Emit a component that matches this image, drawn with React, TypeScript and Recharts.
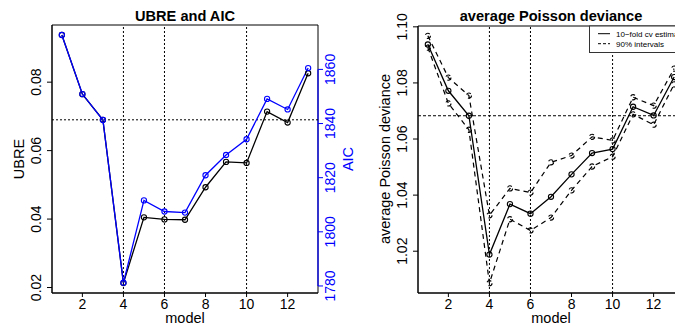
import { LineChart, Line, XAxis, YAxis, ReferenceLine, ReferenceArea } from 'recharts';

const models = [1, 2, 3, 4, 5, 6, 7, 8, 9, 10, 11, 12, 13];
const ubre = [0.0938, 0.0765, 0.069, 0.0213, 0.0405, 0.0399, 0.0398, 0.0493, 0.0567, 0.0564, 0.0714, 0.0682, 0.0826];
const aic = [1872.7, 1850.9, 1841.3, 1781.2, 1811.6, 1807.5, 1807.1, 1820.9, 1828.4, 1834.2, 1849.1, 1845.2, 1860.5];
const cvMean = [1.0937, 1.0772, 1.0683, 1.0188, 1.0368, 1.0334, 1.0394, 1.0474, 1.055, 1.0564, 1.0715, 1.0684, 1.0821];
const cvUpper = [1.0968, 1.0819, 1.0755, 1.0328, 1.0424, 1.0409, 1.0517, 1.0541, 1.0608, 1.0595, 1.0749, 1.0719, 1.0851];
const cvLower = [1.0926, 1.0727, 1.0633, 1.0086, 1.0314, 1.0274, 1.032, 1.0417, 1.0502, 1.0537, 1.0688, 1.0651, 1.0795];

const xTicks = [2, 4, 6, 8, 10, 12];
const ubreTicks = [0.02, 0.04, 0.06, 0.08];
const aicTicks = [1780, 1800, 1820, 1840, 1860];
const devTicks = [1.02, 1.04, 1.06, 1.08, 1.1];
const markedModels = [4, 6, 10];

const xDomain = [0.52, 13.48];
const ubreDomain = [0.0184, 0.0967];
const aicDomain = [1777.4, 1876.4];
const devDomain = [1.0051, 1.1003];

const FONT = '"Liberation Sans", Arial, sans-serif';
const BLUE = '#0000FF';

const leftData = models.map((m, i) => ({ model: m, ubre: ubre[i], aic: aic[i] }));
const rightData = models.map((m, i) => ({ model: m, mean: cvMean[i], upper: cvUpper[i], lower: cvLower[i] }));

const fmt2 = (v: number) => v.toFixed(2);

function RotTick({ x, y, payload, dx, color, format }: any) {
  const label = format ? format(payload.value) : String(payload.value);
  return (
    <text
      transform={`translate(${x + dx},${y}) rotate(-90)`}
      textAnchor="middle"
      fontSize={14}
      fontFamily={FONT}
      fill={color}
    >
      {label}
    </text>
  );
}

const blackDot = { r: 2.6, stroke: '#000', strokeWidth: 1.1, fill: 'none' };
const blueDot = { r: 2.6, stroke: BLUE, strokeWidth: 1.1, fill: 'none' };
const xTick = { fontSize: 14, fontFamily: FONT, fill: '#000' };

export default function App() {
  return (
    <div style={{ position: 'absolute', left: 0, top: 0, width: 675, height: 327, overflow: 'hidden', background: '#fff' }}>
      <div style={{ position: 'absolute', left: 0, top: 0 }}>
        <LineChart width={340} height={327} data={leftData} margin={{ top: 25, right: 0, bottom: 0, left: 0 }}>
          <XAxis
            dataKey="model"
            type="number"
            domain={xDomain}
            ticks={xTicks}
            allowDataOverflow
            height={34}
            tickSize={4}
            tick={xTick}
            stroke="#000"
          />
          <YAxis
            yAxisId="left"
            type="number"
            domain={ubreDomain}
            ticks={ubreTicks}
            allowDataOverflow
            width={52}
            tickSize={5}
            stroke="#000"
            tick={<RotTick dx={-4} color="#000" format={fmt2} />}
          />
          <YAxis
            yAxisId="right"
            orientation="right"
            type="number"
            domain={aicDomain}
            ticks={aicTicks}
            allowDataOverflow
            width={22}
            tickSize={5}
            axisLine={false}
            tickLine={{ stroke: BLUE }}
            tick={<RotTick dx={10} color={BLUE} />}
          />
          <ReferenceArea
            yAxisId="left"
            x1={xDomain[0]}
            x2={xDomain[1]}
            y1={ubreDomain[0]}
            y2={ubreDomain[1]}
            fill="none"
            stroke="#000"
            strokeWidth={1}
            ifOverflow="visible"
          />
          <ReferenceLine
            yAxisId="right"
            segment={[{ x: xDomain[1], y: aicTicks[0] }, { x: xDomain[1], y: aicTicks[aicTicks.length - 1] }]}
            stroke={BLUE}
            strokeWidth={1.2}
            ifOverflow="visible"
          />
          {markedModels.map((m) => (
            <ReferenceLine key={m} yAxisId="left" x={m} stroke="#000" strokeDasharray="2 2" />
          ))}
          <ReferenceLine yAxisId="left" y={ubre[2]} stroke="#000" strokeDasharray="2 2" />
          <Line yAxisId="left" type="linear" dataKey="ubre" stroke="#000" strokeWidth={1.3} dot={blackDot} isAnimationActive={false} />
          <Line yAxisId="right" type="linear" dataKey="aic" stroke={BLUE} strokeWidth={1.3} dot={blueDot} isAnimationActive={false} />
        </LineChart>
      </div>

      <div style={{ position: 'absolute', left: 340, top: 0 }}>
        <LineChart width={360} height={327} data={rightData} margin={{ top: 26, right: 16, bottom: 0, left: 0 }}>
          <XAxis
            dataKey="model"
            type="number"
            domain={xDomain}
            ticks={xTicks}
            allowDataOverflow
            height={34}
            tickSize={4}
            tick={xTick}
            stroke="#000"
          />
          <YAxis
            type="number"
            domain={devDomain}
            ticks={devTicks}
            allowDataOverflow
            width={78}
            tickSize={5}
            stroke="#000"
            tick={<RotTick dx={-4} color="#000" format={fmt2} />}
          />
          <ReferenceArea
            x1={xDomain[0]}
            x2={xDomain[1]}
            y1={devDomain[0]}
            y2={devDomain[1]}
            fill="none"
            stroke="#000"
            strokeWidth={1}
            ifOverflow="visible"
          />
          {markedModels.map((m) => (
            <ReferenceLine key={m} x={m} stroke="#000" strokeDasharray="2 2" />
          ))}
          <ReferenceLine y={cvMean[2]} stroke="#000" strokeDasharray="3 2" />
          <Line type="linear" dataKey="upper" stroke="#000" strokeWidth={1.2} strokeDasharray="5 4" dot={blackDot} isAnimationActive={false} />
          <Line type="linear" dataKey="lower" stroke="#000" strokeWidth={1.2} strokeDasharray="5 4" dot={blackDot} isAnimationActive={false} />
          <Line type="linear" dataKey="mean" stroke="#000" strokeWidth={1.3} dot={blackDot} isAnimationActive={false} />
        </LineChart>
      </div>

      {/* titles, axis titles, legend */}
      <svg width={675} height={327} style={{ position: 'absolute', left: 0, top: 0, pointerEvents: 'none' }} fontFamily={FONT}>
        <text x={185} y={21} textAnchor="middle" fontSize={14.6} fontWeight="bold">UBRE and AIC</text>
        <text x={551} y={21} textAnchor="middle" fontSize={14.6} fontWeight="bold">average Poisson deviance</text>
        <text x={185} y={323} textAnchor="middle" fontSize={14.5}>model</text>
        <text x={551} y={323} textAnchor="middle" fontSize={14.5}>model</text>
        <text transform="translate(24,159) rotate(-90)" textAnchor="middle" fontSize={14.5}>UBRE</text>
        <text transform="translate(353,159) rotate(-90)" textAnchor="middle" fontSize={14.5} fill={BLUE}>AIC</text>
        <text transform="translate(390,159) rotate(-90)" textAnchor="middle" fontSize={14.5}>average Poisson deviance</text>
        <rect x={589.5} y={26} width={100} height={26.5} fill="#fff" stroke="#333" strokeWidth={1} />
        <line x1={598} y1={33.7} x2={610} y2={33.7} stroke="#000" strokeWidth={1} />
        <line x1={598} y1={43.7} x2={610} y2={43.7} stroke="#000" strokeWidth={1} strokeDasharray="3 2" />
        <text x={616} y={36.5} fontSize={8}>10−fold cv estimate</text>
        <text x={616} y={46.5} fontSize={8}>90% intervals</text>
      </svg>
    </div>
  );
}
